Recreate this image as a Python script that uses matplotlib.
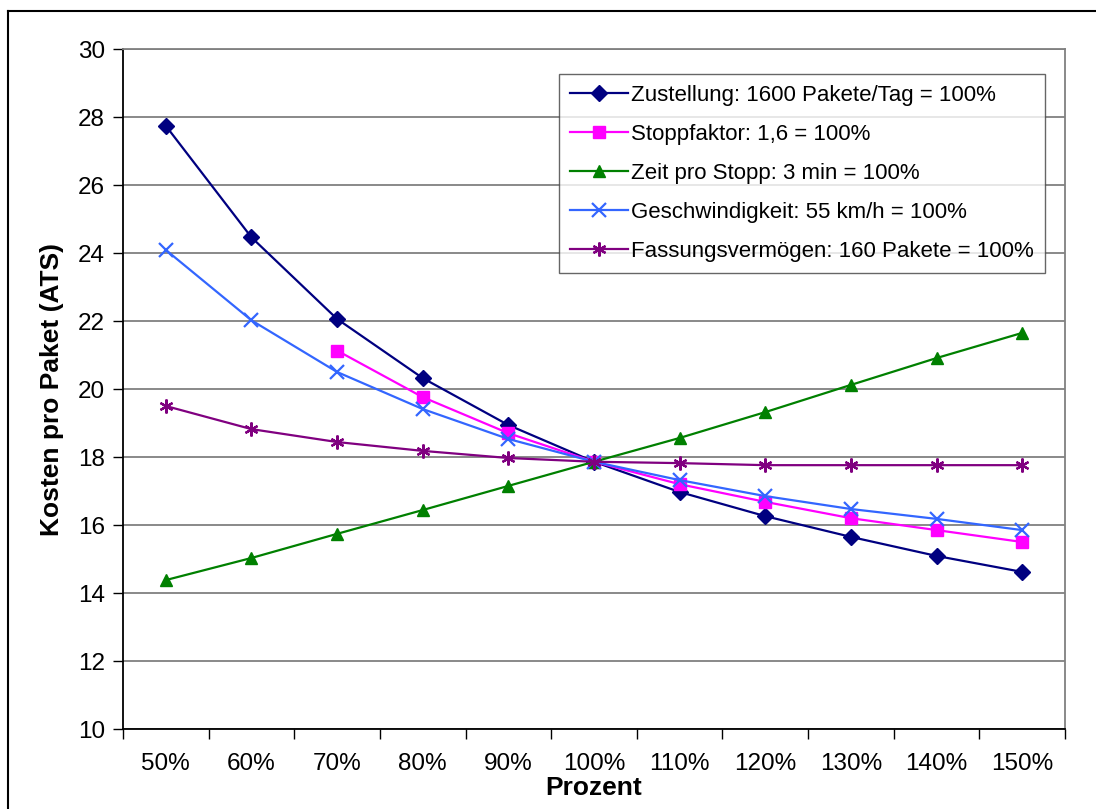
import matplotlib
matplotlib.use("Agg")
import matplotlib.pyplot as plt
from matplotlib.lines import Line2D

plt.rcParams['font.family'] = ['Liberation Sans', 'DejaVu Sans']

categories = ["50%", "60%", "70%", "80%", "90%", "100%", "110%", "120%", "130%", "140%", "150%"]

zustellung = [27.74, 24.46, 22.06, 20.32, 18.94, 17.86, 16.97, 16.26, 15.65, 15.09, 14.62]
stoppfaktor = [None, None, 21.13, 19.76, 18.70, 17.86, 17.20, 16.68, 16.20, 15.85, 15.50]
zeit_pro_stopp = [14.38, 15.03, 15.74, 16.44, 17.15, 17.86, 18.56, 19.32, 20.12, 20.91, 21.65]
geschwindigkeit = [24.09, 22.02, 20.50, 19.41, 18.53, 17.86, 17.32, 16.85, 16.47, 16.18, 15.85]
fassungsvermoegen = [19.50, 18.82, 18.44, 18.18, 17.97, 17.86, 17.82, 17.76, 17.76, 17.76, 17.76]

series = [
    ("Zustellung: 1600 Pakete/Tag = 100%", zustellung, "#000080", "D", 8.5),
    ("Stoppfaktor: 1,6 = 100%", stoppfaktor, "#FF00FF", "s", 8),
    ("Zeit pro Stopp: 3 min = 100%", zeit_pro_stopp, "#008000", "^", 9),
    ("Geschwindigkeit: 55 km/h = 100%", geschwindigkeit, "#3366FF", "x", 10),
    ("Fassungsvermögen: 160 Pakete = 100%", fassungsvermoegen, "#800080", (6, 2, 0), 10),
]

fig = plt.figure(figsize=(10.96, 8.09), dpi=100)
ax = fig.add_axes([123 / 1096, 1 - 729 / 809, (1065 - 123) / 1096, (729 - 49) / 809])

# outer chart frame (top and left edges show inside the canvas)
fig.add_artist(Line2D([8 / 1096, 8 / 1096], [0, 1 - 11 / 809], transform=fig.transFigure, color="black", lw=1.5))
fig.add_artist(Line2D([8 / 1096, 1], [1 - 11 / 809, 1 - 11 / 809], transform=fig.transFigure, color="black", lw=1.5))

x = list(range(len(categories)))
handles = []
for label, vals, color, marker, ms in series:
    xs = [xi for xi, v in zip(x, vals) if v is not None]
    ys = [v for v in vals if v is not None]
    mew = 1.6 if marker in ("x", (6, 2, 0)) else 1.0
    h, = ax.plot(xs, ys, color=color, lw=1.6, marker=marker, markersize=ms,
                 markerfacecolor=color, markeredgecolor=color, markeredgewidth=mew,
                 label=label, zorder=3)
    handles.append(h)

ax.set_xlim(-0.5, len(categories) - 0.5)
ax.set_ylim(10, 30)
ax.set_yticks(range(10, 31, 2))
ax.yaxis.grid(True, color="#808080", lw=1.3)
ax.set_axisbelow(True)

ax.set_xticks(x)
ax.set_xticklabels(categories)
ax.set_xticks([i - 0.5 for i in range(len(categories) + 1)], minor=True)
ax.tick_params(axis="x", which="major", length=0, pad=17, labelsize=17.5)
ax.tick_params(axis="x", which="minor", length=7, width=1, color="black")
ax.tick_params(axis="y", length=7, width=1, pad=6, labelsize=17.5)

for side in ("top", "right"):
    ax.spines[side].set_color("#808080")
    ax.spines[side].set_linewidth(1.3)
for side in ("left", "bottom"):
    ax.spines[side].set_color("black")
    ax.spines[side].set_linewidth(1.3)

ax.set_xlabel("Prozent", fontsize=19, fontweight="bold", labelpad=1)
ax.set_ylabel("Kosten pro Paket (ATS)", fontsize=19, fontweight="bold", labelpad=10)

leg = ax.legend(handles=handles, loc="upper left", bbox_to_anchor=((559 - 123) / 942, 1 - (74 - 49) / 680),
                fontsize=16, frameon=True, fancybox=False, edgecolor="#404040",
                borderpad=0.5, labelspacing=0.81, handlelength=2.6, handletextpad=0.15,
                borderaxespad=0)
leg.get_frame().set_linewidth(1.0)

fig.savefig("out.png", dpi=100)
